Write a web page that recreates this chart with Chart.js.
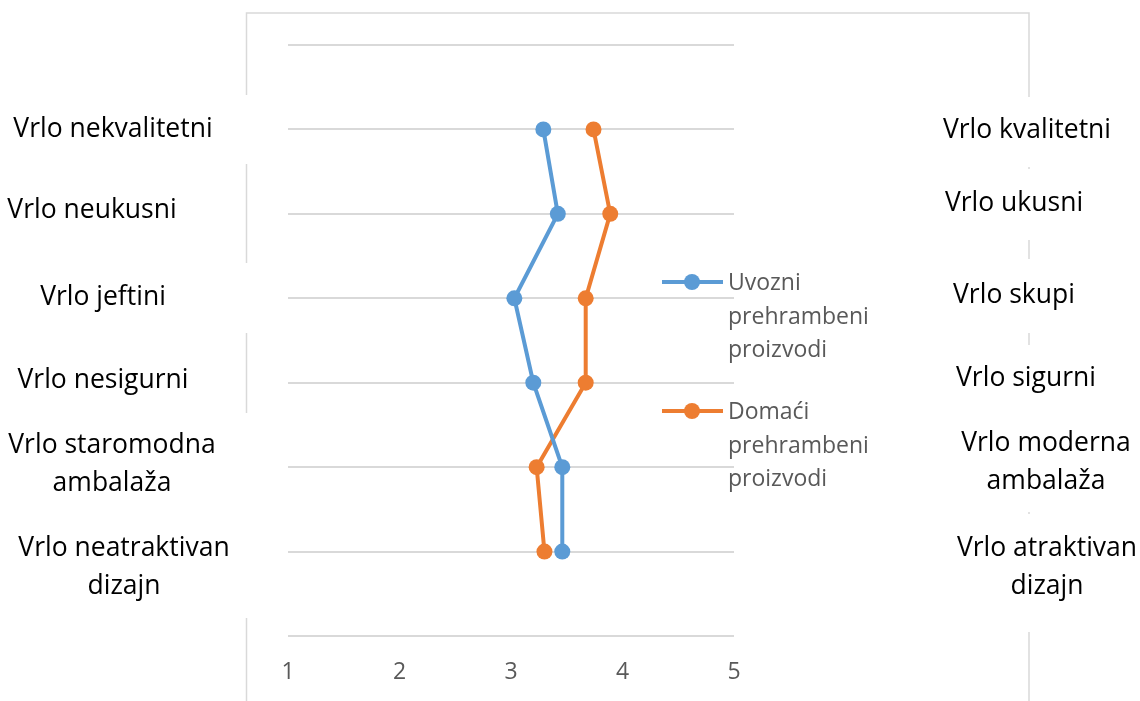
<!DOCTYPE html>
<html>
<head>
<meta charset="utf-8">
<script src="https://cdn.jsdelivr.net/npm/chart.js@4.4.1/dist/chart.umd.min.js"></script>
<style>
  html, body { margin: 0; padding: 0; background: #fff; }
  #wrap { width: 1140px; height: 701px; }
</style>
</head>
<body>
<div id="wrap"><canvas id="graf"></canvas></div>
<script>
// podaci
const lijevo = [['Vrlo nekvalitetni'], ['Vrlo neukusni'], ['Vrlo jeftini'], ['Vrlo nesigurni'], ['Vrlo staromodna', 'ambalaža'], ['Vrlo neatraktivan', 'dizajn']];
const desno = [['Vrlo kvalitetni'], ['Vrlo ukusni'], ['Vrlo skupi'], ['Vrlo sigurni'], ['Vrlo moderna', 'ambalaža'], ['Vrlo atraktivan', 'dizajn']];
const uvozni = [3.29, 3.42, 3.03, 3.20, 3.46, 3.46];
const domaci = [3.74, 3.89, 3.67, 3.67, 3.23, 3.30];
const xOznake = [1, 2, 3, 4, 5];
const serije = [['Uvozni', 'prehrambeni', 'proizvodi'], ['Domaći', 'prehrambeni', 'proizvodi']];

const plava = '#5B9BD5';
const narancasta = '#ED7D31';

// pozicije tekstova (centar x, y prvog retka) i bijelih okvira ispod njih
const lijevoPos = [[113, 129], [92, 210], [103, 297], [103, 380], [112, 445], [124, 548]];
const desnoPos = [[1027, 130], [1014, 203], [1014, 295], [1026, 378], [1046, 443], [1047, 548]];
const lijevoOkvir = [[95, 164], null, [263, 333], null, [413, 618], null];
const desnoOkvir = [[97, 167], [169, 240], [259, 333], [345, 512], null, [514, 632]];

function tocke(niz) {
    return niz.map((v, i) => ({ x: v, y: i + 1 }));
}

const okvirPlugin = {
    id: 'okvir',
    beforeDraw(chart) {
        const ctx = chart.ctx;
        ctx.save();
        ctx.fillStyle = '#fff';
        ctx.fillRect(0, 0, chart.width, chart.height);
        ctx.strokeStyle = '#d9d9d9';
        ctx.lineWidth = 1.5;
        ctx.strokeRect(246.5, 13, 1029 - 246.5, 720);
        ctx.fillStyle = '#fff';
        lijevoOkvir.forEach(o => { if (o) ctx.fillRect(236, o[0], 20, o[1] - o[0]); });
        desnoOkvir.forEach(o => { if (o) ctx.fillRect(1019, o[0], 20, o[1] - o[0]); });
        ctx.restore();
    },
    afterDraw(chart) {
        const ctx = chart.ctx;
        ctx.save();
        ctx.fillStyle = '#000';
        ctx.font = '26.5px "Open Sans"';
        ctx.textAlign = 'center';
        ctx.textBaseline = 'middle';
        lijevo.forEach((l, i) => {
            l.forEach((t, j) => ctx.fillText(t, lijevoPos[i][0], lijevoPos[i][1] + j * 38));
        });
        desno.forEach((l, i) => {
            l.forEach((t, j) => ctx.fillText(t, desnoPos[i][0], desnoPos[i][1] + j * 38));
        });

        // legenda
        const boje = [plava, narancasta];
        const legY = [282, 411];
        ctx.font = '23px "Open Sans"';
        ctx.textAlign = 'left';
        ctx.textBaseline = 'alphabetic';
        serije.forEach((s, i) => {
            ctx.strokeStyle = boje[i];
            ctx.lineWidth = 4;
            ctx.beginPath();
            ctx.moveTo(662, legY[i]);
            ctx.lineTo(723, legY[i]);
            ctx.stroke();
            ctx.fillStyle = boje[i];
            ctx.beginPath();
            ctx.arc(692, legY[i], 8, 0, Math.PI * 2);
            ctx.fill();
            ctx.fillStyle = '#595959';
            s.forEach((t, j) => ctx.fillText(t, 728, legY[i] + 8 + j * 33.5));
        });
        ctx.restore();
    }
};

new Chart(document.getElementById('graf'), {
    type: 'line',
    data: {
        datasets: [{
            label: serije[0].join(' '),
            data: tocke(uvozni),
            borderColor: plava,
            backgroundColor: plava,
            borderWidth: 4,
            pointRadius: 8,
            pointBorderWidth: 0,
            tension: 0
        }, {
            label: serije[1].join(' '),
            data: tocke(domaci),
            borderColor: narancasta,
            backgroundColor: narancasta,
            borderWidth: 4,
            pointRadius: 8,
            pointBorderWidth: 0,
            tension: 0
        }]
    },
    options: {
        responsive: true,
        maintainAspectRatio: false,
        animation: false,
        layout: { padding: { left: 288, right: 406, top: 45, bottom: 0 } },
        plugins: {
            legend: { display: false },
            tooltip: { enabled: false }
        },
        scales: {
            x: {
                type: 'linear',
                min: xOznake[0],
                max: xOznake[xOznake.length - 1],
                grid: { display: false, drawTicks: false },
                border: { display: false },
                afterBuildTicks(scale) {
                    scale.ticks = xOznake.map(v => ({ value: v }));
                },
                afterFit(scale) { scale.height = 65; },
                ticks: {
                    color: '#595959',
                    font: { family: '"Open Sans"', size: 23 },
                    padding: 23
                }
            },
            y: {
                type: 'linear',
                reverse: true,
                min: 0,
                max: 7,
                afterFit(scale) { scale.width = 0; },
                ticks: { display: false, stepSize: 1 },
                border: { display: false },
                grid: { color: '#d9d9d9', lineWidth: 2, drawTicks: false }
            }
        }
    },
    plugins: [okvirPlugin]
});
</script>
</body>
</html>
